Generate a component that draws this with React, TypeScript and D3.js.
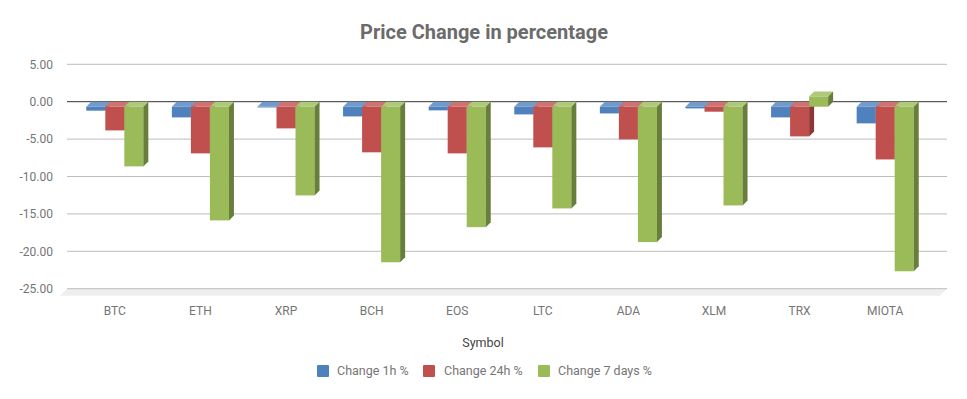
import React from 'react';
import * as d3 from 'd3';

const symbols = ['BTC', 'ETH', 'XRP', 'BCH', 'EOS', 'LTC', 'ADA', 'XLM', 'TRX', 'MIOTA'];
const change1h = [-0.53, -1.43, -0.1, -1.3, -0.49, -1.03, -0.9, -0.23, -1.43, -2.23];
const change24h = [-3.17, -6.24, -2.9, -6.1, -6.24, -5.44, -4.37, -0.67, -3.97, -7.05];
const change7d = [-7.98, -15.2, -11.86, -20.8, -16.1, -13.6, -18.1, -13.2, 1.38, -22.0];
const seriesNames = ['Change 1h %', 'Change 24h %', 'Change 7 days %'];
const yTicks = [5, 0, -5, -10, -15, -20, -25];

// front / top / side shades for each series
const palette = [
  { front: '#4F81BD', top: '#729ACA', side: '#3A6595' },
  { front: '#C0504D', top: '#CD7371', side: '#8C3836' },
  { front: '#9BBB59', top: '#AFC97A', side: '#687E3B' },
];

const W = 967;
const H = 399;
const depth = 5;
const font = 'Roboto, sans-serif';

const App: React.FC = () => {
  const series = [change1h, change24h, change7d];

  const y = d3.scaleLinear().domain([-25, 5]).range([288.7, 64.3]);
  const x = d3.scaleBand<string>().domain(symbols).range([72, 928]);
  const bw = x.bandwidth();
  const inner = d3.scaleBand<number>().domain([0, 1, 2]).range([bw / 6, (bw * 5) / 6]);
  const w = inner.bandwidth();

  const gridX0 = 67;
  const gridX1 = 947;

  const bars: JSX.Element[] = [];
  symbols.forEach((sym, i) => {
    series.forEach((vals, s) => {
      const v = vals[i];
      const c = palette[s];
      const x0 = (x(sym) as number) + (inner(s) as number);
      const x1 = x0 + w;
      // front face sits in the front plane (shifted down by depth)
      const yTop = y(Math.max(0, v)) + depth;
      const yBot = y(Math.min(0, v)) + depth;
      const d = depth;
      bars.push(
        <g key={`${sym}-${s}`}>
          <rect x={x0} y={yTop} width={w} height={Math.max(0, yBot - yTop)} fill={c.front} />
          <path
            d={`M${x0},${yTop}L${x1},${yTop}L${x1 + d},${yTop - d}L${x0 + d},${yTop - d}Z`}
            fill={c.top}
          />
          <path
            d={`M${x1},${yTop}L${x1 + d},${yTop - d}L${x1 + d},${yBot - d}L${x1},${yBot}Z`}
            fill={c.side}
          />
        </g>
      );
    });
  });

  const legendItems = [
    { x: 317, tx: 337 },
    { x: 423, tx: 444 },
    { x: 538, tx: 558 },
  ];

  return (
    <svg width={W} height={H} style={{ position: 'absolute', left: 0, top: 0, background: '#fff' }}>
      <rect width={W} height={H} fill="#fff" />
      <text x={484} y={39} textAnchor="middle" fontFamily={font} fontSize={20} fontWeight="bold" fill="#6b6b6b">
        Price Change in percentage
      </text>

      {/* floor */}
      <path
        d={`M${gridX0},${y(-25)}L${gridX1},${y(-25)}L${gridX1 - 7},${y(-25) + 7}L${gridX0 - 7},${y(-25) + 7}Z`}
        fill="#eeeeee"
      />

      {yTicks.map(t => (
        <g key={t}>
          {t !== 0 && (
            <line x1={gridX0} x2={gridX1} y1={y(t)} y2={y(t)} stroke="#bdbdbd" strokeWidth={1} />
          )}
          <text x={53} y={y(t)} dy="0.35em" textAnchor="end" fontFamily={font} fontSize={12} fill="#757575">
            {t.toFixed(2)}
          </text>
        </g>
      ))}
      <line x1={gridX0} x2={gridX1} y1={y(0)} y2={y(0)} stroke="#333" strokeWidth={1} />

      {bars}

      {symbols.map(sym => (
        <text
          key={sym}
          x={(x(sym) as number) + bw / 2}
          y={311}
          dy="0.35em"
          textAnchor="middle"
          fontFamily={font}
          fontSize={12}
          fill="#757575"
        >
          {sym}
        </text>
      ))}

      <text x={483} y={343} dy="0.35em" textAnchor="middle" fontFamily={font} fontSize={12.5} fill="#444">
        Symbol
      </text>

      {seriesNames.map((name, s) => (
        <g key={name}>
          <rect x={legendItems[s].x} y={365} width={12} height={12} rx={1} fill={palette[s].front} />
          <text x={legendItems[s].tx} y={371} dy="0.35em" fontFamily={font} fontSize={12.5} fill="#757575">
            {name}
          </text>
        </g>
      ))}
    </svg>
  );
};

export default App;
